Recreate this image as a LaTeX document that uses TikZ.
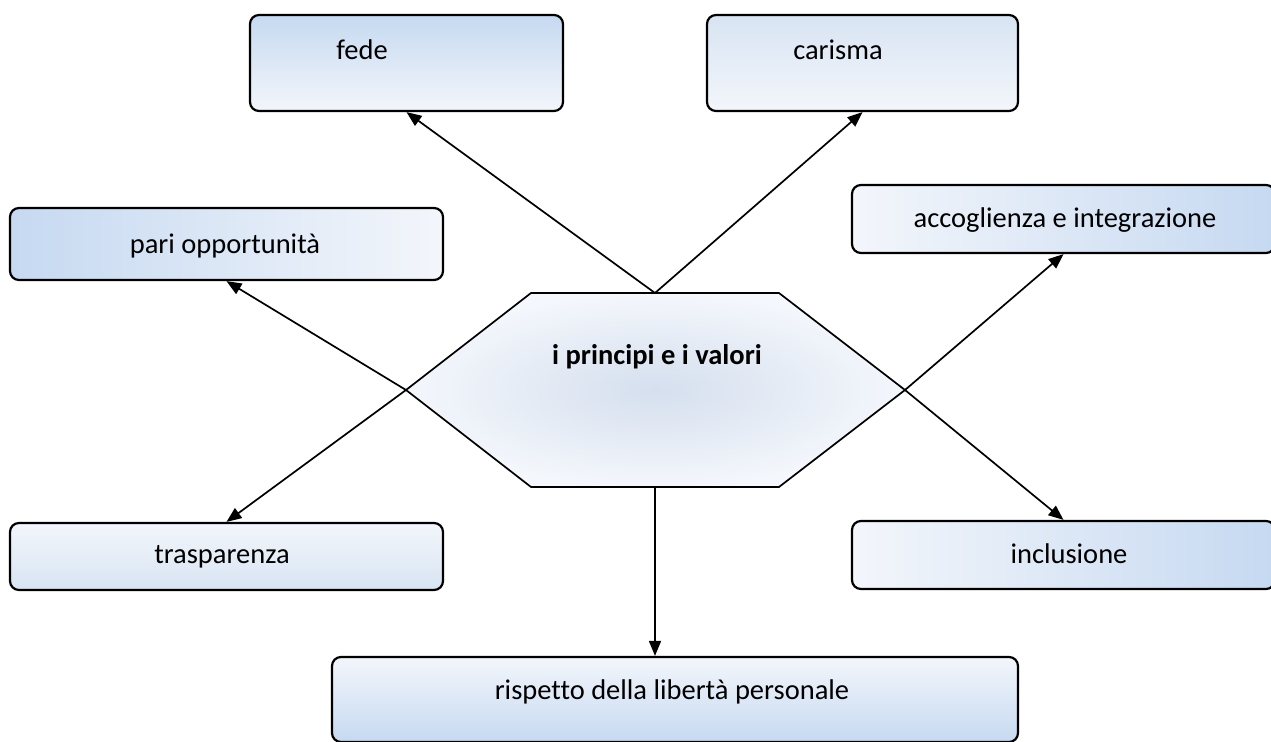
\documentclass[tikz,border=0pt]{standalone}
\usepackage{fontspec}
\setmainfont[Ligatures=NoCommon]{Carlito}
\usetikzlibrary{arrows.meta}
\definecolor{bblue}{HTML}{C6D9F1}
\definecolor{bmid}{HTML}{D8E4F3}
\definecolor{bwhite}{HTML}{F3F6FB}
\definecolor{hexin}{HTML}{D5DFEE}
\definecolor{hexout}{HTML}{F4F7FC}
\tikzset{
  box/.style={draw=black, line width=2.2bp, rounded corners=9bp, inner sep=0pt},
  arr/.style={draw=black, line width=1.7bp, -{Triangle[length=15bp,width=12bp]}},
  lbl/.style={inner sep=0pt, anchor=base, text=black},
}
\begin{document}
\begin{tikzpicture}[x=1bp,y=-1bp,font=\fontsize{28.5bp}{34bp}\selectfont]
\useasboundingbox (0,0) rectangle (1271,742);
\fill[white] (0,0) rectangle (1271,742);

% hexagon corner coordinates
\coordinate (hexTL) at (531,293);
\coordinate (hexTR) at (779,293);
\coordinate (hexR) at (905,390);
\coordinate (hexBR) at (779,487);
\coordinate (hexBL) at (531,487);
\coordinate (hexL) at (406,390);
\coordinate (hexT) at (655,293);
\coordinate (hexB) at (655,487);

% boxes
\node[box, minimum width=313bp, minimum height=96bp, top color=bblue, bottom color=bwhite] (fede) at (406.5,63) {};
\node[box, minimum width=311bp, minimum height=96bp, top color=bmid, bottom color=bwhite] (carisma) at (862.5,63) {};
\node[box, minimum width=433bp, minimum height=72bp, left color=bblue, right color=bwhite] (pari) at (226.5,244) {};
\node[box, minimum width=423bp, minimum height=68bp, left color=bwhite, right color=bblue] (accoglienza) at (1063.5,219) {};
\node[box, minimum width=433bp, minimum height=67bp, top color=bwhite, bottom color=bmid] (trasparenza) at (226.5,556.5) {};
\node[box, minimum width=423bp, minimum height=68bp, left color=bwhite, right color=bblue] (inclusione) at (1063.5,555) {};
\node[box, minimum width=686bp, minimum height=85bp, top color=bwhite, bottom color=bblue] (rispetto) at (675,699.5) {};

% arrows
\draw[arr] (hexT) -- (fede.south);
\draw[arr] (hexT) -- (carisma.south);
\draw[arr] (hexL) -- (pari.south);
\draw[arr] (hexL) -- (trasparenza.north);
\draw[arr] (hexR) -- (accoglienza.south);
\draw[arr] (hexR) -- (inclusione.north);
\draw[arr] (hexB) -- (hexB |- rispetto.north);

% hexagon
\path[draw=black, line width=1.7bp, inner color=hexin, outer color=hexout]
  (hexTL) -- (hexTR) -- (hexR) -- (hexBR) -- (hexBL) -- (hexL) -- cycle;

% labels
\node[lbl] (tfede) at (362,60) {fede};
\node[lbl] (tcarisma) at (838,60) {carisma};
\node[lbl] (tpari) at (225,253) {pari opportunità};
\node[lbl] (taccoglienza) at (1065,227) {accoglienza e integrazione};
\node[lbl] (ttrasparenza) at (222,563) {trasparenza};
\node[lbl] (tinclusione) at (1069,563) {inclusione};
\node[lbl] (trispetto) at (672,699) {rispetto della libertà personale};
\node[lbl, font=\fontsize{28.5bp}{34bp}\selectfont\bfseries] (thex) at (657,364) {i principi e i valori};
\end{tikzpicture}
\end{document}
